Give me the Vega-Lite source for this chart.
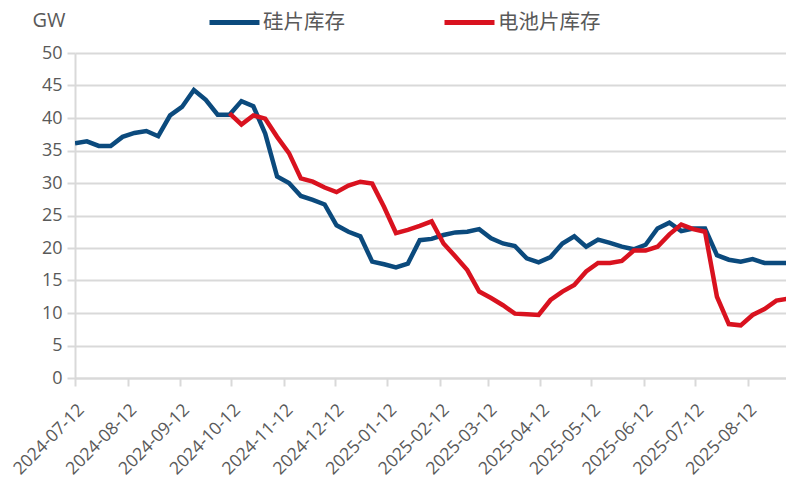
{
  "$schema": "https://vega.github.io/schema/vega-lite/v6.json",
  "autosize": "none",
  "width": 711,
  "height": 325,
  "padding": {"left": 75, "top": 53, "right": 0, "bottom": 104},
  "background": "white",
  "config": {"view": {"stroke": null}, "font": "Noto Sans CJK SC"},
  "data": {"values": [
    {"date":"2024-07-12","s":"硅片库存","v":36.1},
    {"date":"2024-07-19","s":"硅片库存","v":36.4},
    {"date":"2024-07-26","s":"硅片库存","v":35.7},
    {"date":"2024-08-02","s":"硅片库存","v":35.7},
    {"date":"2024-08-09","s":"硅片库存","v":37.1},
    {"date":"2024-08-16","s":"硅片库存","v":37.7},
    {"date":"2024-08-23","s":"硅片库存","v":38.0},
    {"date":"2024-08-30","s":"硅片库存","v":37.2},
    {"date":"2024-09-06","s":"硅片库存","v":40.4},
    {"date":"2024-09-13","s":"硅片库存","v":41.7},
    {"date":"2024-09-20","s":"硅片库存","v":44.3},
    {"date":"2024-09-27","s":"硅片库存","v":42.8},
    {"date":"2024-10-04","s":"硅片库存","v":40.5},
    {"date":"2024-10-11","s":"硅片库存","v":40.5},
    {"date":"2024-10-18","s":"硅片库存","v":42.6},
    {"date":"2024-10-25","s":"硅片库存","v":41.8},
    {"date":"2024-11-01","s":"硅片库存","v":37.6},
    {"date":"2024-11-08","s":"硅片库存","v":31.0},
    {"date":"2024-11-15","s":"硅片库存","v":30.0},
    {"date":"2024-11-22","s":"硅片库存","v":28.0},
    {"date":"2024-11-29","s":"硅片库存","v":27.4},
    {"date":"2024-12-06","s":"硅片库存","v":26.7},
    {"date":"2024-12-13","s":"硅片库存","v":23.5},
    {"date":"2024-12-20","s":"硅片库存","v":22.5},
    {"date":"2024-12-27","s":"硅片库存","v":21.8},
    {"date":"2025-01-03","s":"硅片库存","v":17.9},
    {"date":"2025-01-10","s":"硅片库存","v":17.5},
    {"date":"2025-01-17","s":"硅片库存","v":17.0},
    {"date":"2025-01-24","s":"硅片库存","v":17.6},
    {"date":"2025-01-31","s":"硅片库存","v":21.2},
    {"date":"2025-02-07","s":"硅片库存","v":21.4},
    {"date":"2025-02-14","s":"硅片库存","v":22.0},
    {"date":"2025-02-21","s":"硅片库存","v":22.4},
    {"date":"2025-02-28","s":"硅片库存","v":22.5},
    {"date":"2025-03-07","s":"硅片库存","v":22.9},
    {"date":"2025-03-14","s":"硅片库存","v":21.5},
    {"date":"2025-03-21","s":"硅片库存","v":20.7},
    {"date":"2025-03-28","s":"硅片库存","v":20.3},
    {"date":"2025-04-04","s":"硅片库存","v":18.4},
    {"date":"2025-04-11","s":"硅片库存","v":17.8},
    {"date":"2025-04-18","s":"硅片库存","v":18.6},
    {"date":"2025-04-25","s":"硅片库存","v":20.7},
    {"date":"2025-05-02","s":"硅片库存","v":21.8},
    {"date":"2025-05-09","s":"硅片库存","v":20.2},
    {"date":"2025-05-16","s":"硅片库存","v":21.3},
    {"date":"2025-05-23","s":"硅片库存","v":20.8},
    {"date":"2025-05-30","s":"硅片库存","v":20.2},
    {"date":"2025-06-06","s":"硅片库存","v":19.8},
    {"date":"2025-06-13","s":"硅片库存","v":20.5},
    {"date":"2025-06-20","s":"硅片库存","v":23.0},
    {"date":"2025-06-27","s":"硅片库存","v":23.9},
    {"date":"2025-07-04","s":"硅片库存","v":22.6},
    {"date":"2025-07-11","s":"硅片库存","v":23.0},
    {"date":"2025-07-18","s":"硅片库存","v":23.0},
    {"date":"2025-07-25","s":"硅片库存","v":18.9},
    {"date":"2025-08-01","s":"硅片库存","v":18.2},
    {"date":"2025-08-08","s":"硅片库存","v":17.9},
    {"date":"2025-08-15","s":"硅片库存","v":18.3},
    {"date":"2025-08-22","s":"硅片库存","v":17.7},
    {"date":"2025-08-29","s":"硅片库存","v":17.7},
    {"date":"2025-09-05","s":"硅片库存","v":17.7},
    {"date":"2024-10-11","s":"电池片库存","v":40.7},
    {"date":"2024-10-18","s":"电池片库存","v":39.0},
    {"date":"2024-10-25","s":"电池片库存","v":40.4},
    {"date":"2024-11-01","s":"电池片库存","v":39.9},
    {"date":"2024-11-08","s":"电池片库存","v":37.1},
    {"date":"2024-11-15","s":"电池片库存","v":34.6},
    {"date":"2024-11-22","s":"电池片库存","v":30.7},
    {"date":"2024-11-29","s":"电池片库存","v":30.2},
    {"date":"2024-12-06","s":"电池片库存","v":29.3},
    {"date":"2024-12-13","s":"电池片库存","v":28.6},
    {"date":"2024-12-20","s":"电池片库存","v":29.6},
    {"date":"2024-12-27","s":"电池片库存","v":30.2},
    {"date":"2025-01-03","s":"电池片库存","v":29.9},
    {"date":"2025-01-10","s":"电池片库存","v":26.3},
    {"date":"2025-01-17","s":"电池片库存","v":22.3},
    {"date":"2025-01-24","s":"电池片库存","v":22.8},
    {"date":"2025-01-31","s":"电池片库存","v":23.4},
    {"date":"2025-02-07","s":"电池片库存","v":24.1},
    {"date":"2025-02-14","s":"电池片库存","v":20.7},
    {"date":"2025-02-21","s":"电池片库存","v":18.7},
    {"date":"2025-02-28","s":"电池片库存","v":16.6},
    {"date":"2025-03-07","s":"电池片库存","v":13.3},
    {"date":"2025-03-14","s":"电池片库存","v":12.3},
    {"date":"2025-03-21","s":"电池片库存","v":11.2},
    {"date":"2025-03-28","s":"电池片库存","v":9.9},
    {"date":"2025-04-04","s":"电池片库存","v":9.8},
    {"date":"2025-04-11","s":"电池片库存","v":9.7},
    {"date":"2025-04-18","s":"电池片库存","v":12.0},
    {"date":"2025-04-25","s":"电池片库存","v":13.3},
    {"date":"2025-05-02","s":"电池片库存","v":14.3},
    {"date":"2025-05-09","s":"电池片库存","v":16.4},
    {"date":"2025-05-16","s":"电池片库存","v":17.7},
    {"date":"2025-05-23","s":"电池片库存","v":17.7},
    {"date":"2025-05-30","s":"电池片库存","v":18.0},
    {"date":"2025-06-06","s":"电池片库存","v":19.6},
    {"date":"2025-06-13","s":"电池片库存","v":19.6},
    {"date":"2025-06-20","s":"电池片库存","v":20.2},
    {"date":"2025-06-27","s":"电池片库存","v":22.1},
    {"date":"2025-07-04","s":"电池片库存","v":23.6},
    {"date":"2025-07-11","s":"电池片库存","v":22.9},
    {"date":"2025-07-18","s":"电池片库存","v":22.5},
    {"date":"2025-07-25","s":"电池片库存","v":12.5},
    {"date":"2025-08-01","s":"电池片库存","v":8.3},
    {"date":"2025-08-08","s":"电池片库存","v":8.1},
    {"date":"2025-08-15","s":"电池片库存","v":9.7},
    {"date":"2025-08-22","s":"电池片库存","v":10.6},
    {"date":"2025-08-29","s":"电池片库存","v":11.9},
    {"date":"2025-09-05","s":"电池片库存","v":12.2}
  ]},
  "mark": {"type": "line", "strokeWidth": 4.5, "clip": true, "strokeJoin": "miter", "strokeCap": "butt"},
  "encoding": {
    "x": {
      "field": "date", "type": "temporal",
      "scale": {"type": "utc", "domain": [
        {"year": 2024, "month": 7, "date": 12, "utc": true},
        {"year": 2025, "month": 9, "date": 3, "hours": 16, "utc": true}
      ]},
      "axis": {
        "title": null,
        "values": [
          {"year": 2024, "month": 7, "date": 12, "utc": true},
          {"year": 2024, "month": 8, "date": 12, "utc": true},
          {"year": 2024, "month": 9, "date": 12, "utc": true},
          {"year": 2024, "month": 10, "date": 12, "utc": true},
          {"year": 2024, "month": 11, "date": 12, "utc": true},
          {"year": 2024, "month": 12, "date": 12, "utc": true},
          {"year": 2025, "month": 1, "date": 12, "utc": true},
          {"year": 2025, "month": 2, "date": 12, "utc": true},
          {"year": 2025, "month": 3, "date": 12, "utc": true},
          {"year": 2025, "month": 4, "date": 12, "utc": true},
          {"year": 2025, "month": 5, "date": 12, "utc": true},
          {"year": 2025, "month": 6, "date": 12, "utc": true},
          {"year": 2025, "month": 7, "date": 12, "utc": true},
          {"year": 2025, "month": 8, "date": 12, "utc": true}
        ],
        "labelExpr": "utcFormat(datum.value, '%Y-%m-%d')",
        "labelAngle": -45,
        "labelAlign": "right",
        "labelBaseline": "middle",
        "labelFontSize": 17.5,
        "labelColor": "#595959",
        "labelPadding": 21,
        "labelOffset": 6,
        "labelFont": "Open Sans",
        "labelOverlap": false,
        "labelBound": false,
        "grid": false,
        "domainColor": "#d9d9d9",
        "domainWidth": 2,
        "tickColor": "#d9d9d9",
        "tickWidth": 2,
        "tickSize": 8
      }
    },
    "y": {
      "field": "v", "type": "quantitative",
      "scale": {"domain": [0, 50], "nice": false},
      "axis": {
        "title": "GW",
        "titleAngle": 0,
        "titleAlign": "left",
        "titleBaseline": "alphabetic",
        "titleX": -43,
        "titleY": -27,
        "titleFontSize": 20,
        "titleFontWeight": "normal",
        "titleColor": "#595959",
        "titleFont": "Open Sans",
        "values": [0, 5, 10, 15, 20, 25, 30, 35, 40, 45, 50],
        "labelFontSize": 18,
        "labelColor": "#595959",
        "labelFont": "Open Sans",
        "labelPadding": 5,
        "grid": true,
        "gridColor": "#d9d9d9",
        "gridWidth": 2,
        "domainColor": "#d9d9d9",
        "domainWidth": 2,
        "tickColor": "#d9d9d9",
        "tickWidth": 2,
        "tickSize": 8
      }
    },
    "color": {
      "field": "s", "type": "nominal",
      "scale": {"domain": ["硅片库存", "电池片库存"], "range": ["#0b4a7d", "#d9121f"]},
      "legend": {
        "title": null,
        "orient": "none",
        "legendX": 132,
        "legendY": -58,
        "direction": "horizontal",
        "columns": 2,
        "columnPadding": 89,
        "symbolType": "stroke",
        "symbolSize": 2500,
        "symbolStrokeWidth": 5,
        "labelFontSize": 20.5,
        "labelColor": "#595959",
        "labelOffset": 1,
        "labelFont": "Noto Sans CJK SC"
      }
    }
  }
}
